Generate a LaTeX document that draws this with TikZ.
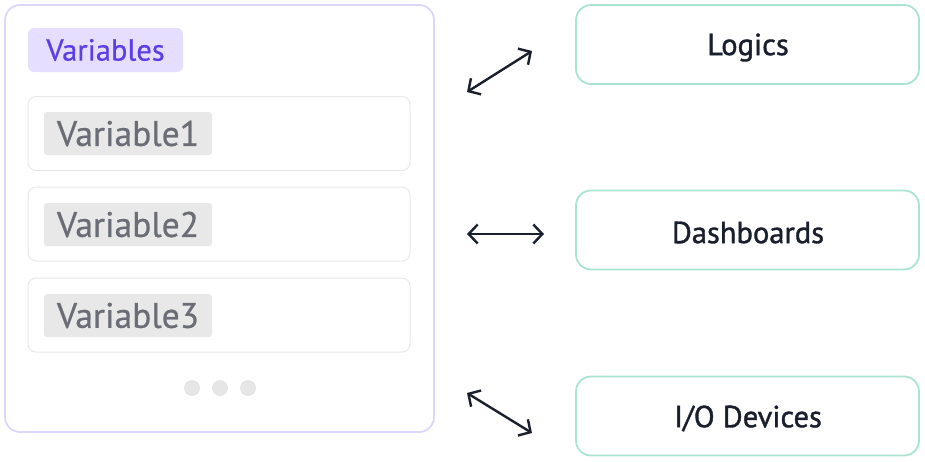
\documentclass[tikz,border=0pt]{standalone}
\usepackage{fontspec}
\setmainfont{PT Sans}
\newfontfamily\medfont[FakeBold=1.2]{PT Sans}
\newfontfamily\semifont[FakeBold=0.6]{PT Sans}
\usetikzlibrary{arrows.meta}
\definecolor{mainborder}{HTML}{DDD6FC}
\definecolor{tagpurple}{HTML}{E5DEFF}
\definecolor{txtpurple}{HTML}{5B3EE6}
\definecolor{varborder}{HTML}{E8E8EA}
\definecolor{taggray}{HTML}{E8E8E8}
\definecolor{txtgray}{HTML}{6B6D76}
\definecolor{dotgray}{HTML}{E6E6E6}
\definecolor{mint}{HTML}{A8E4CF}
\definecolor{navy}{HTML}{1A1F2E}
\tikzset{
  mainbox/.style={draw=mainborder, line width=1.8pt, rounded corners=15pt, minimum width=429pt, minimum height=427pt, inner sep=0pt},
  titletag/.style={fill=tagpurple, rounded corners=6pt, minimum width=155pt, minimum height=44pt, inner sep=0pt, text=txtpurple, font=\semifont\fontsize{30.5}{34}\selectfont},
  varbox/.style={draw=varborder, line width=1pt, rounded corners=8pt, minimum width=382pt, minimum height=74pt, inner sep=0pt},
  vartag/.style={fill=taggray, rounded corners=3pt, minimum width=168pt, minimum height=43pt, inner sep=0pt, text=txtgray, font=\semifont\fontsize{35.5}{40}\selectfont},
  dotc/.style={circle, fill=dotgray, minimum size=16pt, inner sep=0pt},
  rbox/.style={draw=mint, line width=1.8pt, rounded corners=15pt, minimum width=343pt, minimum height=79pt, inner sep=0pt, text=navy, font=\medfont\fontsize{30.5}{34}\selectfont},
  conn/.style={draw=navy, line width=2.4pt, {Straight Barb[length=9pt,width=19pt]}-{Straight Barb[length=9pt,width=19pt]}}
}
\begin{document}
\begin{tikzpicture}[x=1pt,y=-1pt]
\useasboundingbox (0,0) rectangle (925,461);
\node[mainbox] (main) at (219.5,218.5) {};
\node[titletag] (title) at (105.5,50) {Variables};
\node[varbox] (v1) at (219,133.5) {};
\node[varbox] (v2) at (219,224) {};
\node[varbox] (v3) at (219,315) {};
\node[vartag] (t1) at (128,133.5) {Variable1};
\node[vartag] (t2) at (128,224.5) {Variable2};
\node[vartag] (t3) at (128,315.5) {Variable3};
\node[dotc] (d1) at (192,388) {};
\node[dotc] (d2) at (220,388) {};
\node[dotc] (d3) at (248,388) {};
\node[rbox] (logics) at (747.5,44.5) {};
\node[rbox] (dash) at (747.5,230) {};
\node[rbox] (io) at (747.5,416) {};
\node[text=navy, font=\medfont\fontsize{30.5}{34}\selectfont] (logicsT) at (748,47.5) {Logics};
\node[text=navy, font=\medfont\fontsize{30.5}{34}\selectfont] (dashT) at (748,232.5) {Dashboards};
\node[text=navy, font=\medfont\fontsize{30.5}{34}\selectfont] (ioT) at (748,418.5) {I/O Devices};
\coordinate (a1s) at (467,92);
\coordinate (a1e) at (532,51);
\coordinate (a2s) at (467,234);
\coordinate (a2e) at (544,234);
\coordinate (a3s) at (467,393);
\coordinate (a3e) at (532,433);
\draw[conn] (a1s) -- (a1e);
\draw[conn] (a2s) -- (a2e);
\draw[conn] (a3s) -- (a3e);
\end{tikzpicture}
\end{document}
